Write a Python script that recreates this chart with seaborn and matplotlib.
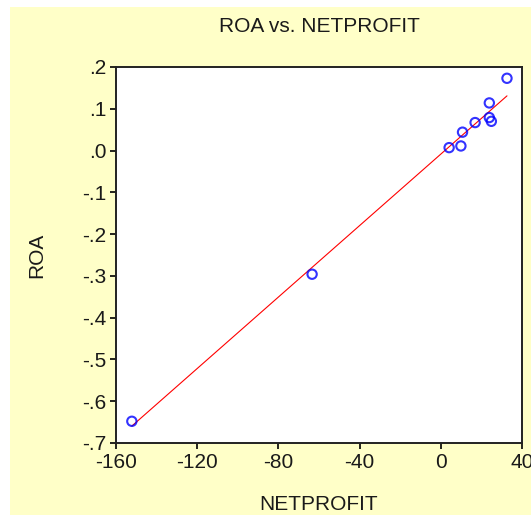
import matplotlib
matplotlib.use("Agg")
import matplotlib.pyplot as plt
from matplotlib.patches import Rectangle
import seaborn as sns
import pandas as pd

# Data
netprofit = [32.6, 23.9, 23.9, 24.9, 16.9, 10.7, 4.1, 9.9, -63.4, -152.2]
roa = [0.173, 0.114, 0.079, 0.070, 0.067, 0.044, 0.007, 0.011, -0.296, -0.648]

x_ticks = [-160, -120, -80, -40, 0, 40]
x_tick_labels = ["-160", "-120", "-80", "-40", "0", "40"]
y_ticks = [0.2, 0.1, 0.0, -0.1, -0.2, -0.3, -0.4, -0.5, -0.6, -0.7]
y_tick_labels = [".2", ".1", ".0", "-.1", "-.2", "-.3", "-.4", "-.5", "-.6", "-.7"]

df = pd.DataFrame({"NETPROFIT": netprofit, "ROA": roa})

sns.set_style("ticks")
plt.rcParams["font.family"] = ["Liberation Sans", "DejaVu Sans"]

W, H = 531, 517
fig = plt.figure(figsize=(W / 100, H / 100), dpi=100)
fig.patch.set_facecolor("white")
fig.patches.append(Rectangle((10 / W, (H - 515) / H), 1 - 10 / W, (515 - 7) / H,
                             transform=fig.transFigure, facecolor="#FFFFC8",
                             edgecolor="none", zorder=-10))

ax = fig.add_axes([116 / W, 1 - 443 / H, (522 - 116) / W, (443 - 67) / H])
ax.set_zorder(1)
ax.set_facecolor("white")

sns.regplot(data=df, x="NETPROFIT", y="ROA", ax=ax, ci=None, truncate=True,
            scatter_kws=dict(marker="o", s=45, facecolors="none",
                             edgecolors="#0000FF", linewidths=1.5, zorder=3),
            line_kws=dict(color="#FF0000", linewidth=0.8, zorder=2))

ax.set_xlim(-160, 40)
ax.set_ylim(-0.7, 0.2)
ax.set_xticks(x_ticks)
ax.set_xticklabels(x_tick_labels)
ax.set_yticks(y_ticks)
ax.set_yticklabels(y_tick_labels)

fs = 15
ax.tick_params(axis="both", direction="out", length=4, width=1.2,
               labelsize=fs, color="black", labelcolor="#1a1a1a", pad=3)
for sp in ax.spines.values():
    sp.set_visible(True)
    sp.set_linewidth(1.4)
    sp.set_color("#222222")

ax.set_xlabel("NETPROFIT", fontsize=fs, color="#1a1a1a", labelpad=17)
ax.set_ylabel("ROA", fontsize=fs, color="#1a1a1a", labelpad=26)
ax.set_title("ROA vs. NETPROFIT", fontsize=fs, color="#1a1a1a", pad=25)

fig.savefig("out.png", dpi=100, facecolor=fig.get_facecolor())
